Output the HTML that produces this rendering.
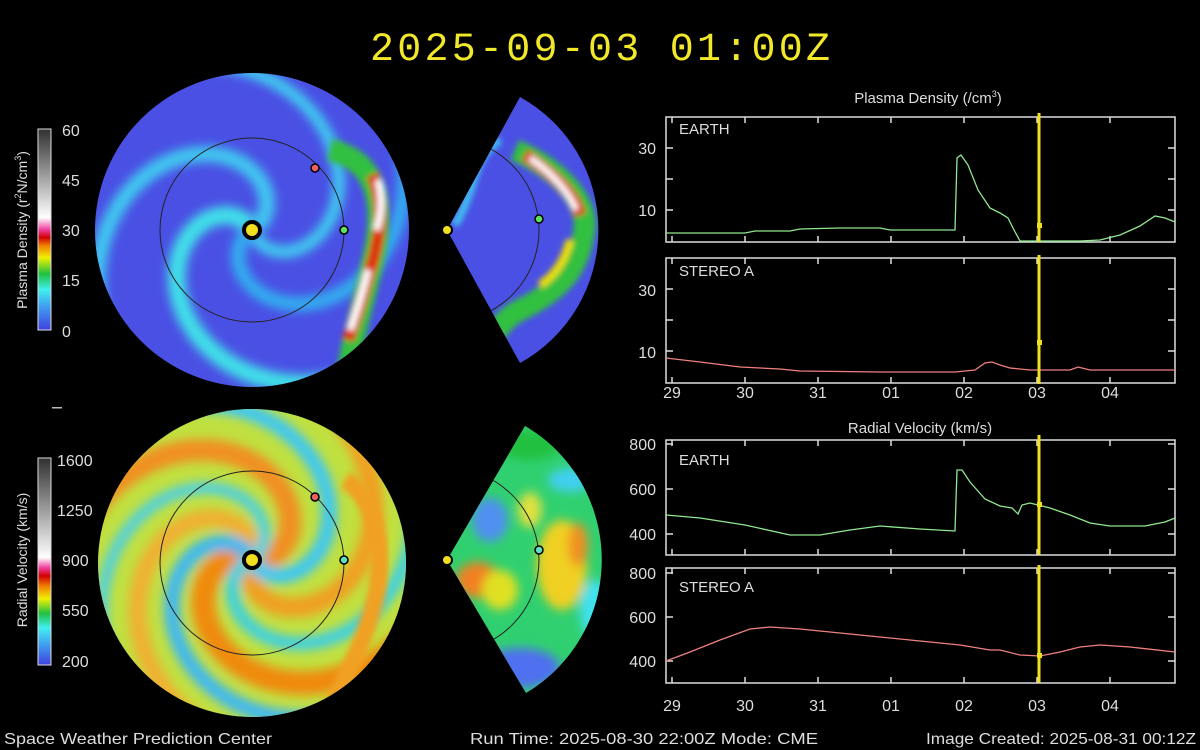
<!DOCTYPE html>
<html><head><meta charset="utf-8">
<style>
html,body{margin:0;padding:0;background:#000;}
svg{display:block;}
text{font-family:"Liberation Sans",sans-serif;}
</style></head>
<body>
<svg id="s" width="1200" height="750" viewBox="0 0 1200 750" xmlns="http://www.w3.org/2000/svg">
<defs>
<linearGradient id="cbd" x1="0" y1="1" x2="0" y2="0">
<stop offset="0" stop-color="#4040e0"/><stop offset="0.12" stop-color="#40a0f0"/><stop offset="0.2" stop-color="#40f0f0"/>
<stop offset="0.28" stop-color="#20c040"/><stop offset="0.36" stop-color="#f0f000"/><stop offset="0.42" stop-color="#f08000"/>
<stop offset="0.46" stop-color="#d00000"/><stop offset="0.5" stop-color="#f040a0"/><stop offset="0.56" stop-color="#ffffff"/>
<stop offset="1" stop-color="#303030"/></linearGradient>
<linearGradient id="cbv" x1="0" y1="1" x2="0" y2="0">
<stop offset="0" stop-color="#4040e0"/><stop offset="0.1" stop-color="#40a0f0"/><stop offset="0.18" stop-color="#40f0f0"/>
<stop offset="0.25" stop-color="#20c040"/><stop offset="0.32" stop-color="#f0f000"/><stop offset="0.38" stop-color="#f08000"/>
<stop offset="0.43" stop-color="#d00000"/><stop offset="0.47" stop-color="#f040a0"/><stop offset="0.52" stop-color="#ffffff"/>
<stop offset="1" stop-color="#303030"/></linearGradient>
<filter id="bl" x="-20%" y="-20%" width="140%" height="140%"><feGaussianBlur stdDeviation="5"/></filter>
<filter id="bl2" x="-20%" y="-20%" width="140%" height="140%"><feGaussianBlur stdDeviation="3"/></filter>
<clipPath id="c1"><circle cx="252" cy="230" r="157"/></clipPath>
<clipPath id="w1"><path d="M447,230 L520,97 A152,152 0 0,1 520,363 Z"/></clipPath>
<clipPath id="c2"><circle cx="252" cy="563" r="154"/></clipPath>
<clipPath id="w2"><path d="M447,560 L525,426 A155,155 0 0,1 526,693 Z"/></clipPath>
</defs>

<text x="600" y="60" text-anchor="middle" fill="#f2e82a" font-size="40" textLength="460" lengthAdjust="spacing" style="font-family:'Liberation Mono',monospace">2025-09-03 01:00Z</text>

<!-- density disc -->
<g clip-path="url(#c1)">
<rect x="90" y="70" width="330" height="320" fill="#4a50e4"/>
<g id="sp1" filter="url(#bl)"></g>
<g filter="url(#bl2)">
<path d="M330,150 C375,160 385,200 375,250 C368,290 355,320 345,390" stroke="#30c040" stroke-width="22" fill="none"/>
<path d="M372,175 C385,200 380,240 370,270 C362,300 355,320 348,340" stroke="#e03010" stroke-width="12" fill="none"/>
<path d="M378,180 C384,200 380,220 376,230" stroke="#ffffff" stroke-width="7" fill="none"/>
<path d="M368,270 C362,295 355,315 350,330" stroke="#ffffff" stroke-width="7" fill="none"/>
</g>
<circle cx="252" cy="230" r="92" fill="none" stroke="#222" stroke-width="1"/>
</g>
<circle cx="252" cy="230" r="8" fill="#f0e020" stroke="#000" stroke-width="4"/>
<circle cx="315" cy="168" r="4" fill="#f06060" stroke="#000" stroke-width="1.5"/>
<circle cx="344" cy="230" r="4" fill="#60e060" stroke="#000" stroke-width="1.5"/>

<!-- density wedge -->
<g clip-path="url(#w1)">
<rect x="440" y="90" width="170" height="280" fill="#4a50e4"/>
<g filter="url(#bl2)">
<path d="M455,225 C480,180 470,160 500,140" stroke="#40c0f0" stroke-width="8" fill="none"/>
<path d="M515,150 C560,170 585,200 585,225 C580,270 560,290 520,310 C500,320 490,340 480,360" stroke="#30c040" stroke-width="22" fill="none"/>
<path d="M525,155 C555,175 575,195 580,215" stroke="#e03010" stroke-width="12" fill="none"/>
<path d="M530,158 C555,175 570,195 576,210" stroke="#ffffff" stroke-width="6" fill="none"/>
<path d="M570,240 C565,260 555,275 540,285" stroke="#f0e000" stroke-width="8" fill="none"/>
</g>
<circle cx="447" cy="230" r="92" fill="none" stroke="#222" stroke-width="1"/>
</g>
<circle cx="447" cy="230" r="5" fill="#f0e020" stroke="#000" stroke-width="2"/>
<circle cx="539" cy="219" r="4" fill="#60e060" stroke="#000" stroke-width="1.5"/>

<!-- velocity disc -->
<g clip-path="url(#c2)">
<rect x="90" y="400" width="330" height="330" fill="#c0e040"/>
<g id="sp2" filter="url(#bl)"></g>
<g filter="url(#bl2)">
<path d="M345,480 C380,500 385,560 375,600 C365,640 345,680 330,710" stroke="#f0a020" stroke-width="18" fill="none"/>
</g>
<circle cx="252" cy="563" r="92" fill="none" stroke="#222" stroke-width="1"/>
</g>
<circle cx="252" cy="560" r="8" fill="#f0e020" stroke="#000" stroke-width="4"/>
<circle cx="315" cy="497" r="4" fill="#f06060" stroke="#000" stroke-width="1.5"/>
<circle cx="344" cy="560" r="4" fill="#60e0c0" stroke="#000" stroke-width="1.5"/>

<!-- velocity wedge -->
<g clip-path="url(#w2)">
<rect x="440" y="420" width="170" height="280" fill="#30d070"/>
<g filter="url(#bl)">
<ellipse cx="490" cy="520" rx="18" ry="22" fill="#5090f0"/>
<ellipse cx="520" cy="668" rx="40" ry="20" fill="#5070f0"/>
<ellipse cx="570" cy="480" rx="22" ry="12" fill="#40d0f0"/>
<ellipse cx="595" cy="610" rx="15" ry="30" fill="#40e0f0"/>
<ellipse cx="478" cy="580" rx="22" ry="18" fill="#f08020"/>
<ellipse cx="500" cy="590" rx="18" ry="20" fill="#e0e020"/>
<ellipse cx="562" cy="565" rx="25" ry="45" fill="#f0d020"/>
<ellipse cx="578" cy="545" rx="10" ry="22" fill="#f09020"/>
<ellipse cx="530" cy="510" rx="12" ry="18" fill="#e0e040"/>
<ellipse cx="530" cy="445" rx="30" ry="15" fill="#20c040"/>
</g>
<circle cx="447" cy="560" r="92" fill="none" stroke="#222" stroke-width="1"/>
</g>
<circle cx="447" cy="560" r="5" fill="#f0e020" stroke="#000" stroke-width="2"/>
<circle cx="539" cy="550" r="4" fill="#60e0c0" stroke="#000" stroke-width="1.5"/>

<!-- colorbars -->
<rect x="38" y="129" width="13" height="201" fill="url(#cbd)" stroke="#ddd" stroke-width="1"/>
<g fill="#ddd" font-size="16">
<text x="62" y="136">60</text><text x="62" y="186">45</text><text x="62" y="236">30</text><text x="62" y="286">15</text><text x="62" y="337">0</text>
</g>
<text transform="translate(27,230) rotate(-90)" text-anchor="middle" fill="#ddd" font-size="14">Plasma Density (r<tspan font-size="9" dy="-6">2</tspan><tspan dy="6">N/cm</tspan><tspan font-size="9" dy="-6">3</tspan><tspan dy="6">)</tspan></text>
<rect x="52" y="407" width="10" height="1.5" fill="#bbb"/>
<rect x="38" y="458" width="13" height="207" fill="url(#cbv)" stroke="#ddd" stroke-width="1"/>
<g fill="#ddd" font-size="16">
<text x="57" y="466">1600</text><text x="57" y="516">1250</text><text x="62" y="566">900</text><text x="62" y="616">550</text><text x="62" y="667">200</text>
</g>
<text transform="translate(27,560) rotate(-90)" text-anchor="middle" fill="#ddd" font-size="14">Radial Velocity (km/s)</text>

<!-- time series frames -->
<g fill="none" stroke="#ddd" stroke-width="1.5">
<rect x="666" y="117" width="509" height="125"/>
<rect x="666" y="258" width="509" height="125"/>
<rect x="666" y="440" width="509" height="115"/>
<rect x="666" y="568" width="509" height="115"/>
</g>
<g id="ticks" stroke="#ddd" stroke-width="1.5"></g>
<g fill="#ddd" font-size="15">
<text x="928" y="103" text-anchor="middle">Plasma Density (/cm<tspan font-size="9" dy="-6">3</tspan><tspan dy="6">)</tspan></text>
<text x="920" y="433" text-anchor="middle">Radial Velocity (km/s)</text>
<text x="679" y="134">EARTH</text><text x="679" y="276">STEREO A</text>
<text x="679" y="465">EARTH</text><text x="679" y="592">STEREO A</text>
<g font-size="16" text-anchor="end">
<text x="656" y="154">30</text><text x="656" y="216">10</text>
<text x="656" y="296">30</text><text x="656" y="358">10</text>
<text x="656" y="450">800</text><text x="656" y="495">600</text><text x="656" y="540">400</text>
<text x="656" y="579">800</text><text x="656" y="623">600</text><text x="656" y="667">400</text>
</g>
<g font-size="16" text-anchor="middle" id="xl"></g>
</g>

<g fill="none" stroke-width="1.3">
<polyline stroke="#90e890" points="666,233 745,233 755,231 790,231 800,229 840,228 880,228 890,230 955,230 957,158 961,155 968,165 978,190 990,208 1000,213 1008,218 1014,230 1020,241 1080,241 1100,240 1120,235 1140,226 1155,216 1165,218 1175,222"/>
<polyline stroke="#f08080" points="666,358 700,362 740,367 780,369 800,371 880,372 955,372 975,370 985,363 992,362 1000,365 1010,368 1030,370 1070,370 1078,367 1090,370 1175,370"/>
<polyline stroke="#90e890" points="666,515 700,518 745,525 790,535 820,535 850,530 880,526 920,529 955,531 957,470 962,470 970,482 985,499 1000,506 1012,508 1018,514 1022,505 1030,503 1050,508 1070,515 1090,523 1110,526 1145,526 1165,522 1175,518"/>
<polyline stroke="#f08080" points="666,661 690,652 720,640 750,629 770,627 800,629 840,633 880,637 920,641 960,645 990,650 1000,650 1020,655 1040,656 1060,652 1080,647 1100,645 1130,647 1175,652"/>
</g>
<g stroke="#f0e020" stroke-width="3"><line x1="1039" y1="113" x2="1039" y2="242"/><line x1="1039" y1="255" x2="1039" y2="384"/><line x1="1039" y1="435" x2="1039" y2="555"/><line x1="1039" y1="565" x2="1039" y2="683"/></g>
<g fill="#f0e020"><rect x="1037" y="223" width="5" height="5"/><rect x="1037" y="340" width="5" height="5"/><rect x="1037" y="502" width="5" height="5"/><rect x="1037" y="653" width="5" height="5"/></g>

<g fill="#ddd" font-size="16">
<text x="4" y="744" textLength="268" lengthAdjust="spacingAndGlyphs">Space Weather Prediction Center</text>
<text x="470" y="744" textLength="348" lengthAdjust="spacingAndGlyphs">Run Time: 2025-08-30 22:00Z  Mode: CME</text>
<text x="926" y="744" textLength="270" lengthAdjust="spacingAndGlyphs">Image Created: 2025-08-31 00:12Z</text>
</g>
</svg>
<script>
var NS="http://www.w3.org/2000/svg";
function spiral(g,cx,cy,phi0,col,w){
 var d="";
 for(var r=5;r<=220;r+=4){var p=phi0-r/55;var x=cx+r*Math.cos(p),y=cy+r*Math.sin(p);d+=(r==5?"M":"L")+x.toFixed(1)+","+y.toFixed(1);}
 var e=document.createElementNS(NS,"path");e.setAttribute("d",d);e.setAttribute("stroke",col);e.setAttribute("stroke-width",w);e.setAttribute("fill","none");g.appendChild(e);
}
var g1=document.getElementById("sp1");
[[-0.5,"#40c8f0",16],[1.3,"#40d0f0",12],[2.6,"#30b0f0",14],[4.2,"#40e0e8",18]].forEach(function(a){spiral(g1,252,230,a[0],a[1],a[2]);});
var g2=document.getElementById("sp2");
[[0.2,"#f09020",22],[2.0,"#f0a020",20],[3.6,"#f08a10",24],[5.0,"#f0b030",18]].forEach(function(a){spiral(g2,252,560,a[0],a[1],a[2]);});
[[1.1,"#40c8f0",16],[2.8,"#40d0e0",14],[4.3,"#40b8f0",16],[5.7,"#50d0e0",12]].forEach(function(a){spiral(g2,252,560,a[0],a[1],a[2]);});
var t=document.getElementById("ticks"),xl=document.getElementById("xl");
var labs=["29","30","31","01","02","03","04"];
for(var i=0;i<7;i++){var x=672+i*73;
 [[242,236],[383,377],[555,549],[683,677],[117,123],[258,264],[440,446],[568,574]].forEach(function(p){var l=document.createElementNS(NS,"line");l.setAttribute("x1",x);l.setAttribute("x2",x);l.setAttribute("y1",p[0]);l.setAttribute("y2",p[1]);t.appendChild(l);});
 [392,705].forEach(function(y){var tx=document.createElementNS(NS,"text");tx.setAttribute("x",x);tx.setAttribute("y",y+6);tx.textContent=labs[i];xl.appendChild(tx);});
}
[148,179,210,289,320,351,444,489,534,573,617,661].forEach(function(y){[[666,673],[1168,1175]].forEach(function(p){var l=document.createElementNS(NS,"line");l.setAttribute("x1",p[0]);l.setAttribute("x2",p[1]);l.setAttribute("y1",y);l.setAttribute("y2",y);t.appendChild(l);});});
</script>
</body></html>
